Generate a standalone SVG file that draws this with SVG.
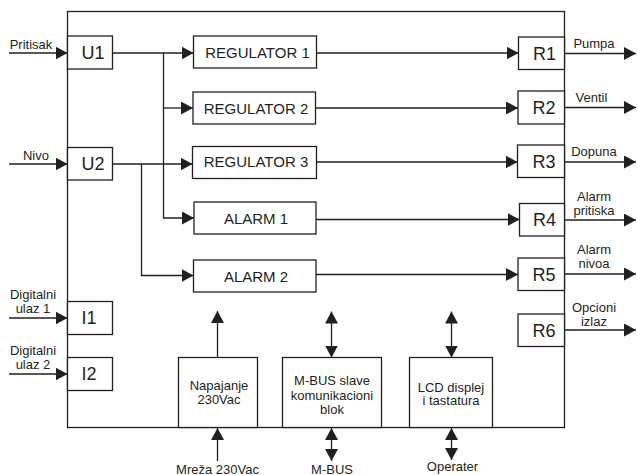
<svg xmlns="http://www.w3.org/2000/svg" width="637" height="475" viewBox="0 0 637 475">
<style>
.box{fill:#fff;stroke:#231f20;stroke-width:1.3}
.frame{fill:none;stroke:#231f20;stroke-width:1.3}
.ln{fill:none;stroke:#231f20;stroke-width:1.3}
text{font-family:"Liberation Sans",Arial,sans-serif;fill:#231f20}
.big{font-size:18px;text-anchor:middle}
.mid{font-size:15px;text-anchor:middle}
.sm{font-size:13px;text-anchor:middle}
</style>
<defs>
<marker id="ah" markerUnits="userSpaceOnUse" markerWidth="12" markerHeight="13" refX="12" refY="6.5" orient="auto-start-reverse" viewBox="0 0 12 13">
<path d="M0,0 L12,6.5 L0,13 z" fill="#231f20"/>
</marker>
</defs>
<rect class="frame" x="67.5" y="11.5" width="497" height="416"/>
<g id="connectors">
<path class="ln" d="M9,53 H67.5" marker-end="url(#ah)"/>
<path class="ln" d="M9,164 H67.5" marker-end="url(#ah)"/>
<path class="ln" d="M9,318 H67.5" marker-end="url(#ah)"/>
<path class="ln" d="M9,374 H67.5" marker-end="url(#ah)"/>
<path class="ln" d="M112.5,53 H193.5" marker-end="url(#ah)"/>
<path class="ln" d="M163.5,53 V218 H194" marker-end="url(#ah)"/>
<path class="ln" d="M163.5,108 H193" marker-end="url(#ah)"/>
<path class="ln" d="M112.5,164 H192.5" marker-end="url(#ah)"/>
<path class="ln" d="M141.5,164 V275.5 H193.5" marker-end="url(#ah)"/>
<path class="ln" d="M316.5,53 H518.5" marker-end="url(#ah)"/>
<path class="ln" d="M315.5,108 H518" marker-end="url(#ah)"/>
<path class="ln" d="M316.5,162 H517.5" marker-end="url(#ah)"/>
<path class="ln" d="M316,219.5 H519.5" marker-end="url(#ah)"/>
<path class="ln" d="M316,274.5 H518" marker-end="url(#ah)"/>
<path class="ln" d="M564.5,53.5 H636" marker-end="url(#ah)"/>
<path class="ln" d="M564.5,107.5 H636" marker-end="url(#ah)"/>
<path class="ln" d="M564.5,162 H636" marker-end="url(#ah)"/>
<path class="ln" d="M564.5,220 H636" marker-end="url(#ah)"/>
<path class="ln" d="M564.5,274 H636" marker-end="url(#ah)"/>
<path class="ln" d="M564.5,330 H636" marker-end="url(#ah)"/>
<path class="ln" d="M217.5,357.5 V311" marker-end="url(#ah)"/>
<path class="ln" d="M331.5,311.5 V357.5" marker-start="url(#ah)" marker-end="url(#ah)"/>
<path class="ln" d="M451.5,311.5 V357.5" marker-start="url(#ah)" marker-end="url(#ah)"/>
<path class="ln" d="M217.5,461 V428" marker-end="url(#ah)"/>
<path class="ln" d="M331.5,428 V461" marker-start="url(#ah)" marker-end="url(#ah)"/>
<path class="ln" d="M451.5,428 V460" marker-start="url(#ah)" marker-end="url(#ah)"/>
</g>
<g id="labels">
<text class="sm" x="31" y="49">Pritisak</text>
<text class="sm" x="36" y="160">Nivo</text>
<text class="sm" x="33" y="299">Digitalni</text>
<text class="sm" x="33" y="313">ulaz 1</text>
<text class="sm" x="33" y="355">Digitalni</text>
<text class="sm" x="33" y="369">ulaz 2</text>
<text class="sm" x="594" y="47.5">Pumpa</text>
<text class="sm" x="591.5" y="102">Ventil</text>
<text class="sm" x="594" y="156">Dopuna</text>
<text class="sm" x="594" y="200.5">Alarm</text>
<text class="sm" x="594" y="214.5">pritiska</text>
<text class="sm" x="594" y="254">Alarm</text>
<text class="sm" x="594" y="268">nivoa</text>
<text class="sm" x="594" y="311.5">Opcioni</text>
<text class="sm" x="594" y="325.5">izlaz</text>
<text class="sm" x="217.5" y="473.5">Mreža 230Vac</text>
<text class="sm" x="332" y="473.5">M-BUS</text>
<text class="sm" x="452.5" y="471">Operater</text>
</g>
<g id="U1"><rect class="box" x="67.5" y="36" width="45" height="33"/><text class="big" x="93" y="59">U1</text></g>
<g id="U2"><rect class="box" x="67.5" y="147.5" width="45" height="32.5"/><text class="big" x="93" y="170">U2</text></g>
<g id="I1"><rect class="box" x="67.5" y="301.5" width="45" height="33"/><text class="big" x="89" y="324">I1</text></g>
<g id="I2"><rect class="box" x="67.5" y="357.5" width="45" height="33"/><text class="big" x="89" y="380">I2</text></g>
<g id="REG1"><rect class="box" x="193.5" y="36" width="123" height="32"/><text class="mid" x="257.5" y="57.5">REGULATOR 1</text></g>
<g id="REG2"><rect class="box" x="193" y="92" width="122.5" height="32"/><text class="mid" x="256" y="113.5">REGULATOR 2</text></g>
<g id="REG3"><rect class="box" x="192.5" y="146.5" width="124" height="32"/><text class="mid" x="256" y="167">REGULATOR 3</text></g>
<g id="ALARM1"><rect class="box" x="194" y="202" width="122" height="32"/><text class="mid" x="256" y="223.5">ALARM 1</text></g>
<g id="ALARM2"><rect class="box" x="193.5" y="260" width="122.5" height="32"/><text class="mid" x="256" y="281.5">ALARM 2</text></g>
<g id="R1"><rect class="box" x="518.5" y="37" width="46" height="32.5"/><text class="big" x="544.5" y="59.5">R1</text></g>
<g id="R2"><rect class="box" x="518" y="91" width="46.5" height="33"/><text class="big" x="544" y="114">R2</text></g>
<g id="R3"><rect class="box" x="517.5" y="145" width="47" height="32.5"/><text class="big" x="544" y="167.5">R3</text></g>
<g id="R4"><rect class="box" x="519.5" y="203.5" width="45" height="32.5"/><text class="big" x="544.5" y="226">R4</text></g>
<g id="R5"><rect class="box" x="518" y="258" width="46.5" height="32.5"/><text class="big" x="544" y="280.5">R5</text></g>
<g id="R6"><rect class="box" x="518" y="314" width="46.5" height="32.5"/><text class="big" x="544" y="336.5">R6</text></g>
<g id="NAPAJANJE"><rect class="box" x="178.5" y="357.5" width="79" height="70"/><text class="sm" x="219" y="390">Napajanje</text><text class="sm" x="219" y="404">230Vac</text></g>
<g id="MBUS"><rect class="box" x="282.5" y="357.5" width="99" height="70"/><text class="sm" x="332" y="384.5">M-BUS slave</text><text class="sm" x="332" y="399.5">komunikacioni</text><text class="sm" x="332" y="414">blok</text></g>
<g id="LCD"><rect class="box" x="409.5" y="357.5" width="83" height="70"/><text class="sm" x="451" y="391.5">LCD displej</text><text class="sm" x="451" y="405">i tastatura</text></g>
</svg>
